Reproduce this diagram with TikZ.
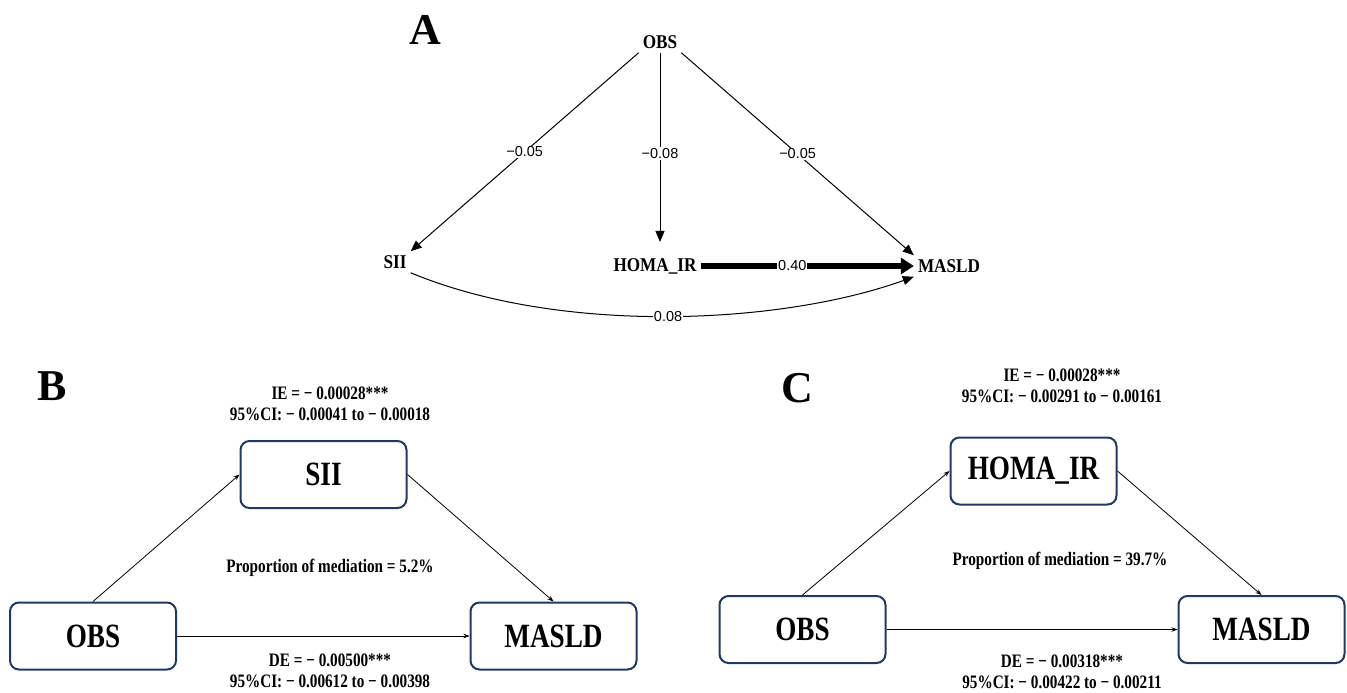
\documentclass[tikz,border=0pt]{standalone}
\usepackage{fontspec}
\setmainfont{Liberation Serif}
\setsansfont{Liberation Sans}
\newfontfamily\narrowserif{Liberation Serif}[FakeStretch=0.8]
\newfontfamily\pathserif{Liberation Serif}[FakeStretch=0.88]
\usetikzlibrary{arrows.meta}
\definecolor{boxblue}{HTML}{203864}

\begin{document}
\begin{tikzpicture}[x=1pt,y=-1pt,
  panel/.style={font=\bfseries\fontsize{44}{44}\selectfont},
  var/.style={font=\pathserif\bfseries\fontsize{19.5}{20}\selectfont, inner sep=4pt},
  coef/.style={font=\sffamily\fontsize{14.5}{15}\selectfont, fill=white, inner sep=1pt},
  path/.style={-{Triangle[length=11pt,width=9pt]}, line width=1pt},
  box/.style={draw=boxblue, line width=2pt, rounded corners=9pt, minimum width=166pt, minimum height=67pt, font=\narrowserif\bfseries\fontsize{34}{34}\selectfont},
  note/.style={font=\narrowserif\bfseries\fontsize{19}{21}\selectfont, align=center},
  link/.style={-{Stealth[length=6pt,width=4.5pt]}, line width=0.8pt}]

\useasboundingbox (0,0) rectangle (1347,693);

% panel A
\node[panel] (labA) at (425,30) {A};
\node[var] (obsA) at (660,42) {OBS};
\node[var] (siiA) at (395,262) {SII};
\node[var] (homaA) at (655,266) {HOMA\_IR};
\node[var] (masldA) at (949,266) {MASLD};

\draw[path] (obsA.south west) -- node[coef]{−0.05} (siiA.north east);
\draw[path, shorten >=12pt] (obsA.south) -- node[coef]{−0.08} (obsA.south |- homaA.north);
\draw[path] (obsA.south east) -- node[coef]{−0.05} (masldA.north west);
\draw[-{Triangle[length=13pt,width=16pt]}, line width=6pt] (homaA.east) -- node[coef, pos=0.43]{0.40} (masldA.west);
\draw[path] (siiA.south east) .. controls (560,335) and (780,325) .. (masldA.south west) node[coef, pos=0.5]{0.08};

% panel B
\node[panel] (labB) at (52,386) {B};
\node[note] (ieB) at (330,404) {IE = − 0.00028***\\95\%CI: − 0.00041 to − 0.00018};
\node[box] (siiB) at (323.5,474.5) {SII};
\node[box] (obsB) at (93,636) {OBS};
\node[box] (masldB) at (553.5,636) {MASLD};
\node[note] (propB) at (330,568) {Proportion of mediation = 5.2\%};
\node[note] (deB) at (330,671) {DE = − 0.00500***\\95\%CI: − 0.00612 to − 0.00398};

\draw[link] (obsB.north) -- (siiB.west);
\draw[link] (siiB.east) -- (masldB.north);
\draw[link] (obsB.east) -- (masldB.west);

% panel C
\node[panel] (labC) at (797,388) {C};
\node[note] (ieC) at (1062,386) {IE = − 0.00028***\\95\%CI: − 0.00291 to − 0.00161};
\node[box] (homaC) at (1033.5,471) {HOMA\_IR};
\node[box] (obsC) at (802.5,629.5) {OBS};
\node[box] (masldC) at (1261.5,629.5) {MASLD};
\node[note] (propC) at (1060,561) {Proportion of mediation = 39.7\%};
\node[note] (deC) at (1062,672) {DE = − 0.00318***\\95\%CI: − 0.00422 to − 0.00211};

\draw[link] (obsC.north) -- (homaC.west);
\draw[link] (homaC.east) -- (masldC.north);
\draw[link] (obsC.east) -- (masldC.west);
\end{tikzpicture}
\end{document}
